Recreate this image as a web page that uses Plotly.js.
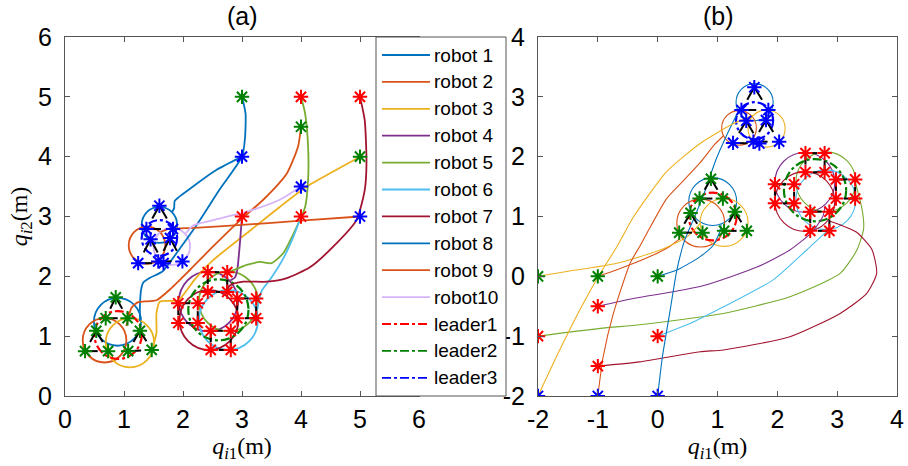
<!DOCTYPE html>
<html><head><meta charset="utf-8">
<script src="https://cdn.plot.ly/plotly-3.0.1.min.js"></script>
<style>html,body{margin:0;padding:0;background:#fff}#chart{width:908px;height:466px}</style>
</head><body><div id="chart"></div>
<script>
// ---------------- DATA ----------------
const aTickVals = [0,1,2,3,4,5,6];
const aTickText = ['0','1','2','3','4','5','6'];
const bTickVals = [-2,-1,0,1,2,3,4];
const bTickText = ['-2','-1','0','1','2','3','4'];

const robotNames  = ['robot 1','robot 2','robot 3','robot 4','robot 5','robot 6','robot 7','robot 8','robot 9','robot10'];
const leaderNames = ['leader1','leader2','leader3'];

// Panel (a) trajectories (approach part), robots 1..10
const pathAx = [
  [3,3.06,3.05,3.0,2.62,2.26,1.95,1.65,1.45,1.33,1.29,1.27,1.27],
  [4,3.95,3.76,3.36,2.97,2.51,2.12,1.8,1.55,1.35,1.24,1.13,1.04],
  [5,4.6,4.1,3.64,3.08,2.51,2.2,1.92,1.61,1.55,1.55,1.51],
  [3,2.96,2.92,2.88,2.8],
  [4,4.07,4.12,4.12,4.07,3.93,3.7,3.5,3.31,3.08,2.85,2.77],
  [4,3.87,3.7,3.5,3.33,3.26],
  [5,5.08,5.11,5.08,4.94,4.55,4.15,3.76,3.42,3.02,2.8,2.72],
  [3,2.57,2.17,1.86,1.85,1.81],
  [5,4,3,2.2,1.75,1.62],
  [4,3.64,3.08,2.51,2.17,2.05]
];
const pathAy = [
  [5,4.72,4.3,4.0,3.45,2.9,2.47,2.08,1.98,1.9,1.78,1.5,1.25],
  [4.5,4.17,3.72,3.28,2.94,2.5,2.11,1.8,1.6,1.58,1.57,1.48,1.17],
  [4,3.78,3.5,3.16,2.72,2.27,1.95,1.6,1.58,1.38,1.05,0.89],
  [3,2.5,2.11,1.98,1.93],
  [5,4.72,4.17,3.61,3.16,2.83,2.39,2.22,2.24,2.19,2.1,2.08],
  [3,2.66,2.3,1.98,1.75,1.45],
  [5,4.61,3.89,3.44,2.94,2.5,2.15,1.97,1.91,1.91,1.85,1.72],
  [4,3.78,3.5,3.26,3.14,3.07],
  [3,2.93,2.86,2.81,2.79,2.74],
  [3.5,3.28,3.08,2.94,2.85,2.72]
];
// Panel (a) final orbits of robots 1..10 (center, radius)
const orbitAcx = [0.89,0.67,1.10,2.43,2.77,2.77,2.44,1.60,1.39,1.81];
const orbitAcy = [1.24,0.93,0.89,1.58,1.58,1.27,1.27,2.86,2.52,2.50];
const orbitAr  = [0.40,0.37,0.41,0.50,0.50,0.50,0.50,0.30,0.31,0.31];
// Panel (a) leader orbits (leader1, leader2, leader3)
const leaderAcx = [0.90,2.60,1.60];
const leaderAcy = [1.02,1.44,2.64];
const leaderAr  = [0.40,0.51,0.30];
// Panel (a) start positions
const startAx = [3,4,5, 3,4,5, 3,4,4,5];
const startAy = [5,4.5,4, 4,3.5,3, 3,3,5,5];
const startAgrp = ['g','g','g','b','b','b','r','r','r','r'];
// Panel (a) final formation stars: triangles (apex, left, right), squares (TL, TR, BL, BR)
const triGreenAx = [0.86,0.69,1.06, 0.53,0.34,0.73, 1.27,1.07,1.47];
const triGreenAy = [1.65,1.30,1.30, 1.09,0.75,0.75, 1.09,0.75,0.77];
const triBlueAx  = [1.60,1.38,1.83, 1.45,1.24,1.67, 1.78,1.58,1.99];
const triBlueAy  = [3.18,2.79,2.79, 2.62,2.22,2.22, 2.64,2.25,2.25];
const sqRedAx = [2.42,2.75,2.42,2.75, 1.92,2.25,1.92,2.25, 2.92,3.24,2.92,3.24, 2.47,2.81,2.47,2.81];
const sqRedAy = [2.07,2.07,1.74,1.74, 1.55,1.55,1.22,1.22, 1.63,1.63,1.30,1.30, 1.09,1.09,0.77,0.77];

// Panel (b) trajectories
const pathBx = [
  [0,0.35,0.71,0.93,1.04,1.06],
  [-1,-0.68,-0.13,0.2,0.37],
  [-2,-1.52,-0.68,0.04,0.49,0.71],
  [-1,-0.41,0.3,0.82,1.65,2.21,2.58,2.76,2.8],
  [-2,-0.96,-0.3,0.71,1.1,2.21,3.05,3.33,3.44,3.44,3.4,3.31],
  [0,0.54,1.1,1.93,2.49,2.88],
  [-1,-0.3,0.71,1.1,2.21,3.05,3.49,3.66,3.58,3.32,3.05,2.88],
  [0,0.08,0.2,0.32,0.45,0.62,0.8,0.97,1.15,1.33],
  [-1,-0.91,-0.74,-0.46,-0.3,-0.18,0.15,0.45,0.71,0.95,1.1],
  [-2,-1.69,-1.3,-0.96,-0.68,-0.4,0.15,0.71,1.26,1.6]
];
const pathBy = [
  [0,0.12,0.33,0.52,0.75,0.87],
  [0,0.11,0.33,0.5,0.63],
  [0,0.08,0.22,0.44,0.66,0.88],
  [-0.5,-0.37,-0.25,-0.14,0.15,0.44,0.74,1.0,1.18],
  [-1,-0.87,-0.81,-0.68,-0.62,-0.34,0.05,0.44,0.78,0.95,1.2,1.55],
  [-1,-0.79,-0.51,-0.06,0.44,0.8],
  [-1.5,-1.43,-1.26,-1.23,-1.01,-0.62,-0.29,0.05,0.45,0.74,0.86,0.92],
  [-2,-1.34,-0.62,0.1,0.6,1.0,1.45,1.94,2.35,2.72],
  [-2,-1.34,-0.62,0.22,0.5,0.72,1.3,1.62,1.9,2.2,2.35],
  [-2,-1.34,-0.56,0.05,0.5,1.0,1.75,2.22,2.55,2.69]
];
const orbitBcx = [0.92,0.72,1.11,2.46,2.81,2.81,2.46,1.62,1.36,1.82];
const orbitBcy = [1.25,0.89,0.90,1.57,1.58,1.28,1.25,2.91,2.48,2.47];
const orbitBr  = [0.40,0.40,0.40,0.50,0.50,0.50,0.50,0.31,0.29,0.31];
const leaderBcx = [0.92,2.63,1.62];
const leaderBcy = [1.00,1.44,2.60];
const leaderBr  = [0.40,0.52,0.31];
const startBx = [-2,-1,0, -2,-1,0,-1, -2,-1,0];
const startBy = [0,0,0, -1,-0.5,-1,-1.5, -2,-2,-2];
const startBgrp = ['g','g','g','r','r','r','r','b','b','b'];
const triGreenBx = [0.89,0.70,1.09, 0.55,0.36,0.75, 1.29,1.11,1.49];
const triGreenBy = [1.63,1.30,1.30, 1.06,0.73,0.73, 1.08,0.76,0.76];
const triBlueBx  = [1.615,1.40,1.85, 1.48,1.26,1.70, 1.81,1.60,2.03];
const triBlueBy  = [3.16,2.78,2.78, 2.60,2.23,2.22, 2.61,2.25,2.25];
const sqRedBx = [2.47,2.79,2.47,2.79, 1.96,2.28,1.96,2.28, 2.98,3.30,2.98,3.30, 2.55,2.87,2.55,2.87];
const sqRedBy = [2.06,2.06,1.74,1.74, 1.54,1.54,1.22,1.22, 1.62,1.62,1.30,1.30, 1.08,1.08,0.76,0.76];

// ---------------- STYLE ----------------
const colorsA = ['#0072BD','#D95319','#EDB120','#7E2F8E','#77AC30','#4DBEEE','#A2142F','#0072BD','#D95319','#D6B4F7'];
const colorsB = ['#0072BD','#D95319','#EDB120','#7E2F8E','#77AC30','#4DBEEE','#A2142F','#0072BD','#D95319','#EDB120'];
const leaderColors = ['#FF0000','#008000','#0000FF'];
const grpColor = {r:'#FF0000', g:'#008000', b:'#0000FF'};
const tickFont = {family:'Liberation Sans, Arial, sans-serif', size:25, color:'#000'};
const serifFont = {family:'Liberation Serif, Times New Roman, serif', size:24, color:'#000'};

const W=908,H=466, L=65, R=897, T=37, B=396;
const px2x = p => (p-L)/(R-L);
const px2y = p => (B-p)/(B-T);

const traces = [];
const shapes = [];

function halfSeg(ax,ay,i,j,f,outx,outy){
  outx.push(ax[i], ax[i]+(ax[j]-ax[i])*f, null);
  outy.push(ay[i], ay[i]+(ay[j]-ay[i])*f, null);
}
function formationLines(tx1,ty1,tx2,ty2,sx,sy){
  const ex=[],ey=[];
  [[tx1,ty1],[tx2,ty2]].forEach(([tx,ty])=>{
    for(let k=0;k<tx.length;k+=3){
      halfSeg(tx,ty,k,k+1,0.55,ex,ey);
      halfSeg(tx,ty,k,k+2,0.55,ex,ey);
      halfSeg(tx,ty,k+1,k+2,0.55,ex,ey);
    }
  });
  for(let k=0;k<sx.length;k+=4){
    halfSeg(sx,sy,k,k+1,0.6,ex,ey);
    halfSeg(sx,sy,k,k+2,0.6,ex,ey);
    halfSeg(sx,sy,k+3,k+2,0.6,ex,ey);
    halfSeg(sx,sy,k+3,k+1,0.6,ex,ey);
  }
  return [ex,ey];
}

function panel(xa,ya,px,py,ocx,ocy,orr,lcx,lcy,lr,colors,lw,sx,sy,sg,tgx,tgy,tbx,tby,srx,sry){
  for(let i=0;i<10;i++){
    traces.push({x:px[i],y:py[i],xaxis:xa,yaxis:ya,mode:'lines',name:robotNames[i],
      showlegend:false,line:{color:colors[i],width:lw,shape:'spline',smoothing:0.6},hoverinfo:'skip'});
    shapes.push({type:'circle',xref:xa,yref:ya,layer:'below',
      x0:ocx[i]-orr[i],x1:ocx[i]+orr[i],y0:ocy[i]-orr[i],y1:ocy[i]+orr[i],
      line:{color:colors[i],width:lw}});
  }
  for(let i=0;i<3;i++){
    shapes.push({type:'circle',xref:xa,yref:ya,layer:'below',
      x0:lcx[i]-lr[i],x1:lcx[i]+lr[i],y0:lcy[i]-lr[i],y1:lcy[i]+lr[i],
      line:{color:leaderColors[i],width:2.2,dash:'dashdot'}});
  }
  const [ex,ey] = formationLines(tgx,tgy,tbx,tby,srx,sry);
  traces.push({x:ex,y:ey,xaxis:xa,yaxis:ya,mode:'lines',showlegend:false,
    line:{color:'#000',width:2},hoverinfo:'skip'});
  const groups = {
    r:{x:[...srx],y:[...sry]},
    g:{x:[...tgx],y:[...tgy]},
    b:{x:[...tbx],y:[...tby]}
  };
  sg.forEach((g,i)=>{groups[g].x.push(sx[i]);groups[g].y.push(sy[i]);});
  ['r','g','b'].forEach(g=>{
    traces.push({x:groups[g].x,y:groups[g].y,xaxis:xa,yaxis:ya,mode:'markers',showlegend:false,
      marker:{symbol:'asterisk-open',size:12,color:grpColor[g],line:{color:grpColor[g],width:2}},hoverinfo:'skip'});
  });
}

panel('x','y',pathAx,pathAy,orbitAcx,orbitAcy,orbitAr,leaderAcx,leaderAcy,leaderAr,colorsA,1.8,
      startAx,startAy,startAgrp,triGreenAx,triGreenAy,triBlueAx,triBlueAy,sqRedAx,sqRedAy);
panel('x2','y2',pathBx,pathBy,orbitBcx,orbitBcy,orbitBr,leaderBcx,leaderBcy,leaderBr,colorsB,1.1,
      startBx,startBy,startBgrp,triGreenBx,triGreenBy,triBlueBx,triBlueBy,sqRedBx,sqRedBy);

// ---------------- LEGEND (drawn manually) ----------------
const annotations = [];
shapes.push({type:'rect',xref:'paper',yref:'paper',layer:'above',
  x0:px2x(376),x1:px2x(506),y0:px2y(396),y1:px2y(37),
  fillcolor:'#fff',line:{color:'#555',width:1}});
const legNames = robotNames.concat(leaderNames);
const legColors = colorsA.concat(leaderColors);
legNames.forEach((n,k)=>{
  const yy = 55 + k*26.9;
  shapes.push({type:'line',xref:'paper',yref:'paper',layer:'above',
    x0:px2x(382),x1:px2x(430),y0:px2y(yy),y1:px2y(yy),
    line:{color:legColors[k],width:1.8,dash:k<10?'solid':'dashdot'}});
  annotations.push({xref:'paper',yref:'paper',x:px2x(432),y:px2y(yy),xanchor:'left',yanchor:'middle',
    text:n,showarrow:false,font:{family:'Liberation Sans, Arial, sans-serif',size:19,color:'#000'}});
});
annotations.push({xref:'paper',yref:'paper',x:px2x(242),y:px2y(16),xanchor:'center',yanchor:'middle',
  text:'(a)',showarrow:false,font:{family:'Liberation Sans, Arial, sans-serif',size:25,color:'#000'}});
annotations.push({xref:'paper',yref:'paper',x:px2x(718),y:px2y(16),xanchor:'center',yanchor:'middle',
  text:'(b)',showarrow:false,font:{family:'Liberation Sans, Arial, sans-serif',size:25,color:'#000'}});

const axBase = {showline:true,mirror:'ticks',linecolor:'#555',linewidth:1,ticks:'inside',ticklen:5,
  tickcolor:'#555',tickwidth:1,showgrid:false,zeroline:false,tickfont:tickFont,fixedrange:true,automargin:false};
const xTitle = {text:'<i>q</i><sub><i>i</i>1</sub>(m)',font:serifFont,standoff:4};

const layout = {
  width:W,height:H,margin:{l:L,r:W-R,t:T,b:H-B},paper_bgcolor:'#fff',plot_bgcolor:'#fff',
  showlegend:false,
  xaxis:Object.assign({},axBase,{domain:[0,px2x(419)],range:[0,6],tickvals:aTickVals,ticktext:aTickText,
    anchor:'y',ticklabelstandoff:1,title:xTitle}),
  yaxis:Object.assign({},axBase,{domain:[0,1],range:[0,6],tickvals:aTickVals,ticktext:aTickText,
    anchor:'x',ticklabelstandoff:7,title:{text:'<i>q</i><sub><i>i</i>2</sub>(m)',font:serifFont,standoff:3}}),
  xaxis2:Object.assign({},axBase,{domain:[px2x(538),1],range:[-2,4],tickvals:bTickVals,ticktext:bTickText,
    anchor:'y2',ticklabelstandoff:1,title:xTitle}),
  yaxis2:Object.assign({},axBase,{domain:[0,1],range:[-2,4],tickvals:bTickVals,ticktext:bTickText,
    anchor:'x2',ticklabelstandoff:7}),
  shapes:shapes,annotations:annotations
};
Plotly.newPlot('chart',traces,layout,{staticPlot:true,displayModeBar:false});
</script></body></html>
